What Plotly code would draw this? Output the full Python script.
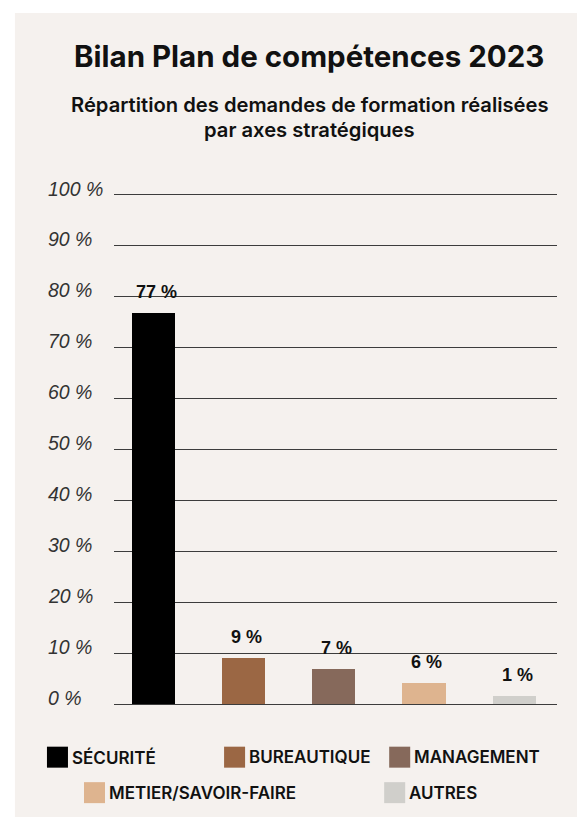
import plotly.graph_objects as go

# ---- data ----
categories = ["SÉCURITÉ", "BUREAUTIQUE", "MANAGEMENT", "METIER/SAVOIR-FAIRE", "AUTRES"]
bar_heights = [76.7, 9.0, 6.9, 4.2, 1.6]
value_labels = ["77 %", "9 %", "7 %", "6 %", "1 %"]
colors = ["#000000", "#9b6744", "#86695b", "#deb48f", "#d0cfcb"]
tick_values = [0, 10, 20, 30, 40, 50, 60, 70, 80, 90, 100]
tick_labels = [f"{v} %" for v in tick_values]

# ---- layout constants (page pixels; the page body adds an 8px offset) ----
W, H = 585, 817
OFF = 8
PLOT_L, PLOT_R, PLOT_T, PLOT_B = 114, 556.7, 193, 704.3
L = PLOT_L - OFF
T = PLOT_T - OFF
R = W - (PLOT_R - OFF)
B = H - (PLOT_B - OFF)
PW, PH = PLOT_R - PLOT_L, PLOT_B - PLOT_T
BG = "#f5f1ee"
SANS = "Inter, 'Noto Sans', sans-serif"
ARIAL = "'Liberation Sans', Arial, sans-serif"
Y_TOP = 100.3


def px_x(x):
    return (x - PLOT_L) / PW


def px_y(y):
    return (PLOT_B - y) / PH


fig = go.Figure()
fig.add_trace(go.Bar(
    x=list(range(len(categories))),
    y=bar_heights,
    marker=dict(color=colors, line=dict(width=0)),
    width=0.478,
    showlegend=False,
    hoverinfo="skip",
))

annotations = []
# title + subtitle
annotations.append(dict(xref="paper", yref="paper", x=px_x(308.5), y=px_y(56),
                        text="<b>Bilan Plan de compétences 2023</b>", showarrow=False,
                        xanchor="center", yanchor="middle",
                        font=dict(family=SANS, size=29.5, color="#111111")))
annotations.append(dict(xref="paper", yref="paper", x=px_x(309.5), y=px_y(104.5),
                        text="Répartition des demandes de formation réalisées", showarrow=False,
                        xanchor="center", yanchor="middle",
                        font=dict(family=SANS, size=20.2, color="#111111", weight=600)))
annotations.append(dict(xref="paper", yref="paper", x=px_x(309.5), y=px_y(129.5),
                        text="par axes stratégiques", showarrow=False,
                        xanchor="center", yanchor="middle",
                        font=dict(family=SANS, size=20.2, color="#111111", weight=600)))

# left-aligned italic tick labels
for v, lab in zip(tick_values, tick_labels):
    annotations.append(dict(xref="paper", yref="y", x=px_x(46), y=v, text=lab,
                            showarrow=False, xanchor="left", yanchor="middle", yshift=6,
                            font=dict(family=ARIAL, size=19.5, color="#333333", style="italic")))

# value labels above bars
for i, (h, lab) in enumerate(zip(bar_heights, value_labels)):
    annotations.append(dict(x=i, y=h, text=f"<b>{lab}</b>", showarrow=False,
                            xanchor="center", yanchor="bottom", yshift=9, xshift=3,
                            font=dict(family=ARIAL, size=18, color="#111111")))

# legend (swatches + labels)
legend_pos = [(47, 757.5), (224, 757.5), (389, 757.5), (84, 793), (384, 793)]
shapes = [dict(type="rect", xref="paper", yref="paper", layer="below",
               x0=px_x(15), x1=px_x(W + 20), y0=px_y(H + 20), y1=px_y(13),
               fillcolor=BG, line=dict(width=0))]
sw = 21
for (lx, ly), cat, col in zip(legend_pos, categories, colors):
    shapes.append(dict(type="rect", xref="paper", yref="paper",
                       x0=px_x(lx), x1=px_x(lx + sw), y0=px_y(ly + sw / 2), y1=px_y(ly - sw / 2),
                       fillcolor=col, line=dict(width=0)))
    annotations.append(dict(xref="paper", yref="paper", x=px_x(lx + sw + 2), y=px_y(ly),
                            text=cat, showarrow=False, xanchor="left", yanchor="middle",
                            font=dict(family=SANS, size=17, color="#111111", weight=600)))

fig.update_layout(
    width=W, height=H,
    margin=dict(l=L, r=R, t=T, b=B, pad=0),
    paper_bgcolor="#ffffff",
    plot_bgcolor="rgba(0,0,0,0)",
    bargap=0,
    xaxis=dict(range=[-0.442, -0.442 + PW / 90], showticklabels=False, showgrid=False,
               zeroline=False, showline=False, ticks="", fixedrange=True),
    yaxis=dict(range=[0, Y_TOP], tickvals=tick_values, showticklabels=False,
               showgrid=True, gridcolor="#3c3c3c", gridwidth=1,
               zeroline=True, zerolinecolor="#3c3c3c", zerolinewidth=1,
               showline=False, ticks="", fixedrange=True),
    annotations=annotations,
    shapes=shapes,
    showlegend=False,
)

fig.write_html("out.html")
